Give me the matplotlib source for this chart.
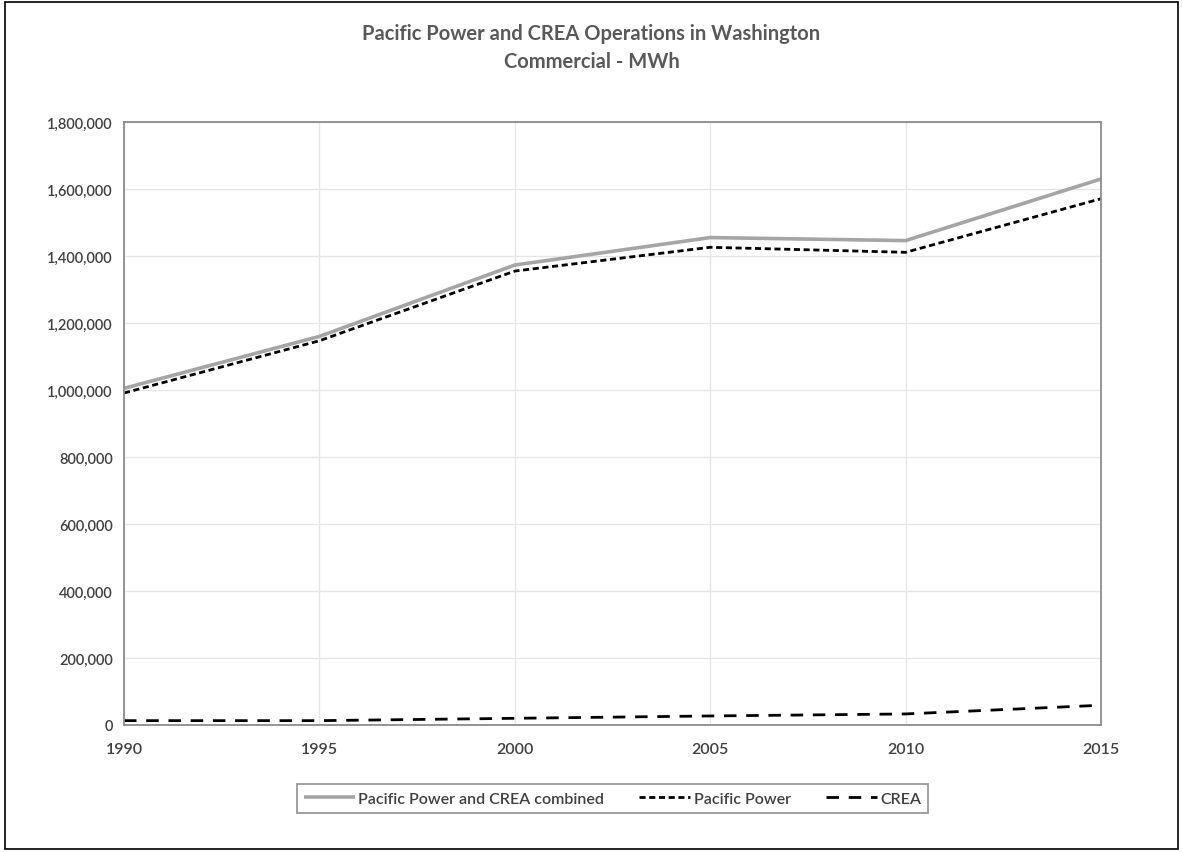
import matplotlib.pyplot as plt
from matplotlib.ticker import FuncFormatter
from matplotlib.patches import Rectangle

plt.rcParams['font.family'] = ['Lato', 'DejaVu Sans']

# Data (MWh)
years = [1990, 1995, 2000, 2005, 2010, 2015]
combined = [1005000, 1160000, 1373000, 1455000, 1446000, 1630000]
pacific_power = [991000, 1147000, 1355000, 1426000, 1411000, 1571000]
crea = [13000, 13000, 20000, 27000, 33000, 59000]

fig = plt.figure(figsize=(11.83, 8.53), dpi=100)
ax = fig.add_axes([124 / 1183, 1 - 726 / 853, (1101 - 124) / 1183, (726 - 123) / 853])

ax.plot(years, combined, color='#A5A5A5', lw=2.6, solid_capstyle='butt',
        label='Pacific Power and CREA combined')
ax.plot(years, pacific_power, color='black', lw=2, dashes=(2.2, 1.3),
        label='Pacific Power')
ax.plot(years, crea, color='black', lw=2, dashes=(4.5, 3.5),
        label='CREA')

ax.set_xlim(1990, 2015)
ax.set_ylim(0, 1800000)
ax.set_xticks(years)
ax.set_yticks(range(0, 1800001, 200000))
ax.yaxis.set_major_formatter(FuncFormatter(lambda v, p: f'{int(v):,}'))
ax.grid(True, color='#E6E6E6', lw=1)
ax.set_axisbelow(True)
for s in ax.spines.values():
    s.set_color('#8C8C8C')
    s.set_linewidth(1.3)
ax.tick_params(length=0, labelsize=10.5, colors='#404040', pad=8)
ax.tick_params(axis='x', pad=12, labelsize=11.5)
for lab in ax.get_xticklabels() + ax.get_yticklabels():
    lab.set_fontweight('semibold')

fig.suptitle('Pacific Power and CREA Operations in Washington\nCommercial - MWh',
             y=0.972, fontsize=14.5, fontweight='bold', color='#595959', linespacing=1.5)

leg = ax.legend(loc='upper center', bbox_to_anchor=(0.5, -0.085), ncol=3,
                frameon=True, fancybox=False, edgecolor='#7F7F7F',
                prop={'size': 11.5, 'weight': 'semibold'},
                handlelength=3.2, handletextpad=0.2, columnspacing=2.2,
                borderpad=0.45)
leg.get_frame().set_linewidth(1.3)
for t in leg.get_texts():
    t.set_color('#404040')

# Outer border around the whole chart
fig.patches.append(Rectangle((0.004, 0.004), 0.992, 0.992, transform=fig.transFigure,
                             fill=False, edgecolor='black', lw=1.2))

plt.savefig('out.png', dpi=100)
